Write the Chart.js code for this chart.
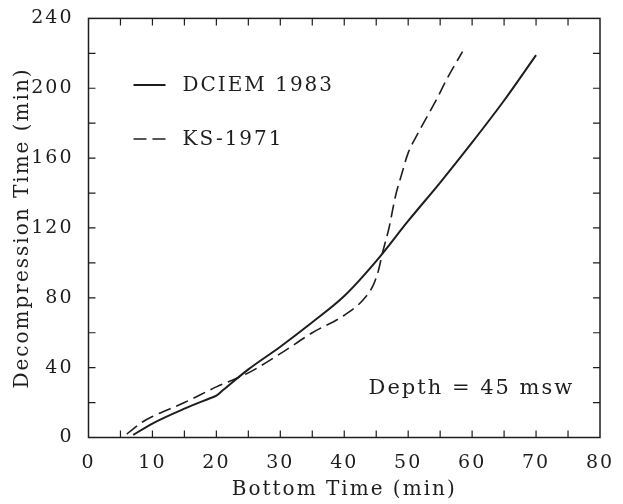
<!DOCTYPE html>
<html>
<head>
<meta charset="utf-8">
<script src="https://cdn.jsdelivr.net/npm/chart.js@4.4.1/dist/chart.umd.min.js"></script>
<style>
  html, body { margin: 0; padding: 0; background: #fff; }
  #wrap { width: 623px; height: 504px; }
</style>
</head>
<body>
<div id="wrap"><canvas id="chart" width="623" height="504"></canvas></div>
<script>
// data
var dciemX = [7, 10, 15, 19, 20, 21, 25, 30, 35, 40, 45, 50, 55, 60, 65, 70];
var dciemY = [1.5, 8, 16.5, 22.5, 24, 27, 39, 52, 66, 81, 101, 124, 146, 169, 193, 219];

var ksX = [6, 7, 8.5, 10, 15, 20, 25, 30, 35, 40, 43, 44.5, 45.3, 46, 47, 48, 49, 50, 51.5, 53, 54.5, 56, 58.5];
var ksY = [2, 5, 9, 12, 20, 29, 37, 48, 60, 70, 79, 87, 95, 106, 120, 138, 151, 163, 174, 184, 194, 205, 221];

var seriesNames = ["DCIEM 1983", "KS-1971"];
var xTickValues = [0, 10, 20, 30, 40, 50, 60, 70, 80];
var yTickValues = [0, 40, 80, 120, 160, 200, 240];
var xTitle = "Bottom Time (min)";
var yTitle = "Decompression Time (min)";
var noteText = "Depth = 45 msw";

var ink = "#1e1e1e";
var serif = "'DejaVu Serif', 'Liberation Serif', serif";

function toPoints(xs, ys) {
    return xs.map(function (x, i) { return { x: x, y: ys[i] }; });
}

// wide lettering like the old plotter font
var spacingPlugin = {
    id: "spacing",
    beforeLayout: function (chart) { chart.ctx.letterSpacing = "2px"; },
    beforeDraw: function (chart) { chart.ctx.letterSpacing = "2px"; }
};

// frame, inward ticks, legend and depth note
var framePlugin = {
    id: "frame",
    afterDraw: function (chart) {
        var ctx = chart.ctx;
        var a = chart.chartArea;
        var xs = chart.scales.x, ys = chart.scales.y;
        ctx.save();
        ctx.strokeStyle = ink;
        ctx.lineWidth = 1.5;
        ctx.setLineDash([]);
        ctx.strokeRect(a.left, a.top, a.right - a.left, a.bottom - a.top);

        // tick marks every half step, on all four sides
        var tl = 7;
        ctx.lineWidth = 1.2;
        ctx.beginPath();
        for (var i = 0; i < xTickValues.length - 1; i++) {
            var v0 = xTickValues[i], v1 = xTickValues[i + 1];
            [v0, (v0 + v1) / 2].forEach(function (v) {
                if (v === xs.min) return;
                var px = xs.getPixelForValue(v);
                ctx.moveTo(px, a.bottom); ctx.lineTo(px, a.bottom - tl);
                ctx.moveTo(px, a.top); ctx.lineTo(px, a.top + tl);
            });
        }
        for (var j = 0; j < yTickValues.length - 1; j++) {
            var w0 = yTickValues[j], w1 = yTickValues[j + 1];
            [w0, (w0 + w1) / 2].forEach(function (v) {
                if (v === ys.min) return;
                var py = ys.getPixelForValue(v);
                ctx.moveTo(a.left, py); ctx.lineTo(a.left + tl, py);
                ctx.moveTo(a.right, py); ctx.lineTo(a.right - tl, py);
            });
        }
        ctx.stroke();

        // legend inside the plot
        ctx.letterSpacing = "2px";
        ctx.font = "20px " + serif;
        ctx.fillStyle = ink;
        ctx.textBaseline = "middle";
        ctx.textAlign = "left";
        var rows = [85, 139];
        chart.data.datasets.forEach(function (ds, k) {
            var y = rows[k];
            ctx.beginPath();
            ctx.lineWidth = ds.borderWidth;
            ctx.setLineDash(ds.borderDash || []);
            ctx.moveTo(a.left + 45, y);
            ctx.lineTo(a.left + 77, y);
            ctx.stroke();
            ctx.setLineDash([]);
            ctx.fillText(ds.label, a.left + 94, y + 1);
        });

        ctx.font = "21px " + serif;
        ctx.fillText(noteText, xs.getPixelForValue(43.8), ys.getPixelForValue(28));
        ctx.restore();
    }
};

new Chart(document.getElementById("chart").getContext("2d"), {
    type: "line",
    data: {
        datasets: [{
            label: seriesNames[0],
            data: toPoints(dciemX, dciemY),
            borderColor: ink,
            borderWidth: 2,
            pointRadius: 0,
            fill: false,
            cubicInterpolationMode: "monotone"
        }, {
            label: seriesNames[1],
            data: toPoints(ksX, ksY),
            borderColor: ink,
            borderWidth: 1.6,
            borderDash: [13, 6],
            pointRadius: 0,
            fill: false,
            cubicInterpolationMode: "monotone"
        }]
    },
    options: {
        responsive: false,
        animation: false,
        layout: {
            padding: { left: 0, right: 23, top: 14, bottom: 0 }
        },
        plugins: {
            legend: { display: false },
            tooltip: { enabled: false }
        },
        scales: {
            x: {
                type: "linear",
                min: 0,
                max: 80,
                afterBuildTicks: function (scale) {
                    scale.ticks = xTickValues.map(function (v) { return { value: v }; });
                },
                afterFit: function (scale) { scale.height = 66.5; },
                grid: { display: false },
                border: { display: false },
                ticks: {
                    color: ink,
                    padding: 6,
                    maxRotation: 0,
                    font: { family: serif, size: 19 }
                },
                title: {
                    display: true,
                    text: xTitle,
                    color: ink,
                    padding: { top: 0, bottom: 2 },
                    font: { family: serif, size: 20 }
                }
            },
            y: {
                type: "linear",
                min: 0,
                max: 240,
                afterBuildTicks: function (scale) {
                    scale.ticks = yTickValues.map(function (v) { return { value: v }; });
                },
                afterFit: function (scale) { scale.width = 88.5; },
                grid: { display: false },
                border: { display: false },
                ticks: {
                    color: ink,
                    padding: 7,
                    font: { family: serif, size: 19 }
                },
                title: {
                    display: true,
                    text: yTitle,
                    color: ink,
                    padding: { top: 11, bottom: 0 },
                    font: { family: serif, size: 20 }
                }
            }
        }
    },
    plugins: [spacingPlugin, framePlugin]
});
</script>
</body>
</html>
